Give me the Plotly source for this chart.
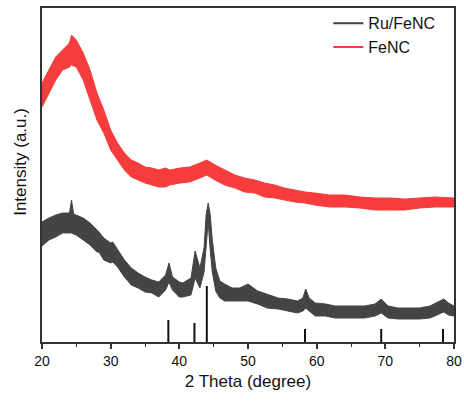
import plotly.graph_objects as go

# Red: FeNC (upper/lower edges of the noisy trace, a.u.)
fenc_x = [20, 21, 22, 23, 24, 24.3, 25, 26, 27, 28, 29, 30, 31, 32, 33, 34, 35, 36, 37, 38,
          38.6, 40.1, 41.5, 43.0, 44.0, 45.2, 46.6, 48.1, 49.5, 51.0, 52.4, 53.9, 55.3, 56.8,
          58.3, 59.7, 61.9, 64.1, 66.3, 68.5, 70.7, 72.8, 75.0, 77.2, 80]
fenc_hi = [259, 272, 285, 292, 299, 307, 302, 289, 272, 249, 232, 212, 199, 189, 182, 179, 175, 174, 172, 174,
           172, 174, 175, 179, 182, 177, 172, 167, 164, 162, 159, 157, 154, 152,
           150, 149, 147, 147, 145, 144, 144, 143, 144, 145, 144]
fenc_lo = [235, 249, 262, 272, 275, 277, 275, 262, 242, 222, 209, 192, 182, 172, 165, 162, 159, 157, 155, 155,
           157, 159, 160, 164, 167, 162, 157, 154, 150, 149, 145, 144, 142, 140,
           139, 137, 135, 135, 134, 132, 132, 132, 134, 135, 135]

# Dark: Ru/FeNC
ru_x = [20, 21, 22, 23, 24, 24.3, 24.6, 25, 26, 27, 28, 28.3, 29, 30, 30.3, 31, 32, 33, 34, 35, 36, 37,
        38, 38.5, 39, 40, 40.5, 41.7, 42.3, 43.0, 43.6, 43.9, 44.2, 44.5, 44.8, 45.3, 45.9, 46.6,
        47.7, 48.8, 50.0, 51.4, 52.8, 54.4, 55.8, 57.2, 58.0, 58.4, 58.9, 59.8, 61.3, 62.7, 65.6,
        67.0, 68.5, 69.4, 70.4, 71.8, 73.6, 75.0, 76.5, 78.0, 78.5, 79.2, 80]
ru_hi = [120, 124, 127, 129, 129, 142, 128, 127, 124, 119, 112, 110, 104, 99, 100, 92, 82, 74, 69, 65, 62, 60,
         67, 79, 65, 60, 59, 64, 91, 74, 94, 127, 139, 127, 102, 74, 61, 58,
         54, 54, 58, 51, 48, 44, 43, 41, 44, 53, 44, 39, 38, 36, 36,
         36, 38, 43, 36, 34, 34, 34, 36, 41, 43, 39, 36]
ru_lo = [96, 102, 105, 109, 109, 109, 108, 107, 102, 97, 90, 90, 82, 79, 80, 75, 65, 57, 54, 50, 49, 45,
         52, 60, 52, 45, 45, 47, 64, 54, 70, 97, 120, 92, 70, 51, 44, 41,
         41, 41, 41, 38, 34, 33, 31, 29, 31, 34, 31, 26, 26, 24, 24,
         24, 26, 29, 24, 23, 23, 23, 24, 28, 30, 27, 26]

# Reference sticks (Ru)
ref_pos = [38.4, 42.2, 44.0, 58.3, 69.4, 78.4]
ref_h = [22, 19, 56, 13, 13, 13]

RED = "#f63c3c"
DARK = "#444444"

fig = go.Figure()

fig.add_trace(go.Scatter(x=ru_x, y=ru_lo, mode="lines", line=dict(color=DARK, width=1),
                         showlegend=False, hoverinfo="skip"))
fig.add_trace(go.Scatter(x=ru_x, y=ru_hi, mode="lines", line=dict(color=DARK, width=1),
                         fill="tonexty", fillcolor=DARK, showlegend=False, hoverinfo="skip"))
fig.add_trace(go.Scatter(x=fenc_x, y=fenc_lo, mode="lines", line=dict(color=RED, width=1),
                         showlegend=False, hoverinfo="skip"))
fig.add_trace(go.Scatter(x=fenc_x, y=fenc_hi, mode="lines", line=dict(color=RED, width=1),
                         fill="tonexty", fillcolor=RED, showlegend=False, hoverinfo="skip"))

sx, sy = [], []
for p, h in zip(ref_pos, ref_h):
    sx += [p, p, None]
    sy += [0, h, None]
fig.add_trace(go.Scatter(x=sx, y=sy, mode="lines", line=dict(color="#111111", width=2),
                         showlegend=False, hoverinfo="skip"))

# legend entries
fig.add_trace(go.Scatter(x=[None], y=[None], mode="lines", name="Ru/FeNC",
                         line=dict(color=DARK, width=2)))
fig.add_trace(go.Scatter(x=[None], y=[None], mode="lines", name="FeNC",
                         line=dict(color=RED, width=2)))

fig.update_layout(
    width=464, height=402,
    margin=dict(l=42, r=10, t=8, b=60, autoexpand=False),
    paper_bgcolor="white", plot_bgcolor="white",
    font=dict(family="Liberation Sans, Arial, sans-serif", color="#111111"),
    showlegend=True,
    legend=dict(x=0.695, y=1.005, xanchor="left", yanchor="top", bgcolor="rgba(0,0,0,0)",
                font=dict(size=16), tracegroupgap=0, itemwidth=30, traceorder="normal"),
    xaxis=dict(range=[20, 80], showline=True, mirror=True, linecolor="#333333", linewidth=1.5,
               ticks="outside", ticklen=5, tickwidth=1.5, tickcolor="#333333",
               tickvals=[20, 30, 40, 50, 60, 70, 80], tickfont=dict(size=14),
               minor=dict(ticks="outside", ticklen=3, tickwidth=1.2, tickcolor="#333333",
                          tickvals=[25, 35, 45, 55, 65, 75]),
               showgrid=False, zeroline=False, automargin=False,
               title=dict(text="2 Theta (degree)", font=dict(size=17), standoff=8)),
    yaxis=dict(range=[0, 334], showline=True, mirror=True, linecolor="#333333", linewidth=1.5,
               showticklabels=False, ticks="", showgrid=False, zeroline=False, automargin=False),
    annotations=[dict(text="Intensity (a.u.)", xref="paper", yref="paper", x=-0.053, y=0.54,
                      textangle=-90, showarrow=False, font=dict(size=17),
                      xanchor="center", yanchor="middle")],
)

fig.write_html("out.html")
